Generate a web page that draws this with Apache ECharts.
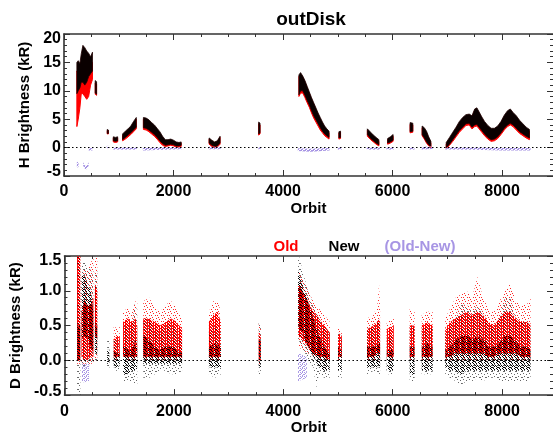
<!DOCTYPE html>
<html><head><meta charset="utf-8">
<script src="https://cdn.jsdelivr.net/npm/echarts@6/dist/echarts.min.js"></script>
<style>html,body{margin:0;padding:0;background:#fff}#c{width:553px;height:436px}</style>
</head><body><div id="c"></div>
<script>
// ---------- tick labels / categories ----------
var xTicks = [0, 2000, 4000, 6000, 8000];
var hTicks = [-5, 0, 5, 10, 15, 20];
var dTicks = [-0.5, 0.0, 0.5, 1.0, 1.5];
var legendNames = ['Old', 'New', '(Old-New)'];

// ---------- H brightness: clusters of [orbit, low, high] ----------
var hNew = [
 [[235,9.5,15.0],[260,10.0,15.3],[290,10.5,14.8],[315,11.5,16.5],[345,11.5,18.0],[380,11.0,17.6],[415,11.5,17.0],[450,12.5,16.6],[485,13.0,16.0],[520,13.5,16.8]],
 [[570,9.6,11.8],[595,9.4,11.6]],
 [[790,2.5,3.2],[810,2.5,3.1]],
 [[900,1.2,1.9],[940,1.1,1.8],[980,1.2,1.9]],
 [[1070,1.4,2.4],[1120,1.8,2.9],[1170,2.2,3.3],[1220,2.6,3.8],[1270,3.1,4.6],[1320,3.6,5.3]],
 [[1450,3.5,5.3],[1500,3.4,5.2],[1550,3.1,4.9],[1600,2.7,4.4],[1650,2.3,4.0],[1700,1.8,3.4],[1750,1.2,2.8],[1800,0.7,2.0],[1850,0.4,1.4],[1900,0.5,1.4],[1950,0.6,1.5],[2000,0.5,1.3],[2050,0.3,1.0],[2100,0.3,0.9],[2140,0.4,1.0]],
 [[2650,0.8,1.7],[2700,0.4,1.3],[2750,0.2,1.0],[2800,0.3,1.2],[2850,0.8,2.0]],
 [[3555,2.4,4.5],[3580,2.6,4.3]],
 [[4290,9.3,12.8],[4320,10.0,13.2],[4360,10.0,12.6],[4400,9.2,11.8],[4440,8.3,10.8],[4480,7.5,9.8],[4520,6.5,8.8],[4560,5.6,7.9],[4600,4.9,7.0],[4640,4.2,6.1],[4680,3.5,5.3],[4720,2.9,4.5],[4760,2.4,3.8],[4800,2.1,3.3],[4840,1.8,2.9]],
 [[5020,1.7,2.8],[5050,1.8,2.9]],
 [[5540,2.3,3.3],[5600,1.6,2.7],[5650,1.2,2.2],[5700,0.8,1.8],[5750,0.5,1.4]],
 [[5910,0.8,1.6],[5960,1.0,1.9],[6010,1.3,2.3]],
 [[6320,2.8,4.4],[6370,2.9,4.3]],
 [[6540,2.3,3.8],[6580,1.7,3.5],[6620,1.0,2.9],[6660,0.5,1.9],[6700,0.2,1.1]],
 [[6980,0.0,0.9],[7040,0.6,1.8],[7100,1.4,2.7],[7160,2.2,3.6],[7220,3.0,4.6],[7280,3.6,5.3],[7340,4.2,5.8],[7400,4.3,5.9],[7450,3.6,5.6],[7500,4.0,6.8],[7540,4.1,7.0],[7580,3.6,6.3],[7630,3.0,5.4],[7680,2.4,4.6],[7740,1.8,3.9],[7800,1.4,3.4],[7860,1.5,3.4],[7920,1.9,3.8],[7980,2.6,4.6],[8040,3.4,5.7],[8100,4.0,6.5],[8150,4.3,6.8],[8200,4.0,6.2],[8260,3.4,5.6],[8320,2.8,4.8],[8380,2.4,4.2],[8440,2.0,3.6],[8500,1.7,3.2]]
];
var hOld = [
 [[235,3.7,13.5],[260,5.0,13.0],[290,7.0,13.0],[315,9.5,14.0],[345,9.5,14.5],[380,9.0,14.0],[415,8.5,13.5],[450,9.0,13.0],[485,11.0,14.0],[520,12.0,15.0]],
 [[570,9.4,11.4],[595,9.2,11.2]],
 [[790,2.4,3.0],[810,2.4,3.0]],
 [[900,1.0,1.7],[940,0.9,1.6],[980,1.0,1.7]],
 [[1070,1.2,2.1],[1120,1.5,2.6],[1170,1.9,3.0],[1220,2.3,3.5],[1270,2.8,4.3],[1320,3.3,5.0]],
 [[1450,3.2,5.0],[1500,3.1,4.9],[1550,2.8,4.6],[1600,2.4,4.1],[1650,2.0,3.7],[1700,1.5,3.1],[1750,0.9,2.5],[1800,0.4,1.7],[1850,0.2,1.1],[1900,0.3,1.1],[1950,0.4,1.2],[2000,0.3,1.0],[2050,0.1,0.8],[2100,0.1,0.7],[2140,0.2,0.8]],
 [[2650,0.6,1.5],[2700,0.2,1.1],[2750,0.0,0.8],[2800,0.1,1.0],[2850,0.6,1.8]],
 [[3555,2.2,4.2],[3580,2.4,4.0]],
 [[4290,9.0,12.5],[4320,9.6,12.9],[4360,9.6,12.3],[4400,8.8,11.5],[4440,7.9,10.5],[4480,7.1,9.5],[4520,6.1,8.5],[4560,5.2,7.6],[4600,4.5,6.7],[4640,3.8,5.8],[4680,3.1,5.0],[4720,2.6,4.2],[4760,2.1,3.5],[4800,1.8,3.0],[4840,1.5,2.6]],
 [[5020,1.5,2.6],[5050,1.6,2.7]],
 [[5540,2.0,3.0],[5600,1.4,2.4],[5650,1.0,1.9],[5700,0.6,1.5],[5750,0.3,1.1]],
 [[5910,0.6,1.4],[5960,0.8,1.7],[6010,1.1,2.0]],
 [[6320,2.6,4.1],[6370,2.7,4.0]],
 [[6540,2.1,3.5],[6580,1.5,3.2],[6620,0.8,2.6],[6660,0.3,1.6],[6700,0.0,0.8]],
 [[6980,-0.2,0.6],[7040,0.4,1.5],[7100,1.1,2.4],[7160,1.9,3.3],[7220,2.7,4.3],[7280,3.3,5.0],[7340,3.9,5.5],[7400,4.0,5.6],[7450,3.3,5.3],[7500,3.7,6.5],[7540,3.8,6.7],[7580,3.3,6.0],[7630,2.7,5.1],[7680,2.1,4.3],[7740,1.5,3.6],[7800,1.1,3.1],[7860,1.2,3.1],[7920,1.6,3.5],[7980,2.3,4.3],[8040,3.1,5.4],[8100,3.7,6.2],[8150,4.0,6.5],[8200,3.7,5.9],[8260,3.1,5.3],[8320,2.5,4.5],[8380,2.1,3.9],[8440,1.7,3.3],[8500,1.4,2.9]]
];
var hDiff = [
 [[235,-3.5,-2.5],[265,-3.4,-2.6]],
 [[350,-3.2,-2.6],[380,-3.7,-3.1],[400,-3.9,-3.3],[420,-3.7,-3.1],[450,-3.2,-2.6]],
 [[450,-0.5,0.0],[520,-0.5,-0.1]],
 [[780,-0.1,0.3],[815,-0.1,0.3]],
 [[900,-0.35,0.0],[1330,-0.35,0.0]],
 [[1440,-0.5,-0.05],[1800,-0.4,0.0],[2150,-0.3,0.05]],
 [[2640,-0.3,0.15],[2860,-0.3,0.15]],
 [[3550,-0.3,0.05],[3590,-0.3,0.05]],
 [[4270,-0.6,-0.1],[4500,-0.75,-0.2],[4850,-0.5,-0.05]],
 [[5000,-0.35,0.0],[5070,-0.35,0.0]],
 [[5530,-0.35,0.0],[5770,-0.35,0.0]],
 [[5890,-0.35,0.0],[6020,-0.35,0.0]],
 [[6310,-0.35,0.0],[6400,-0.35,0.0]],
 [[6530,-0.35,0.1],[6730,-0.25,0.25]],
 [[6960,-0.35,0.0],[7500,-0.4,0.0],[8000,-0.5,-0.05],[8520,-0.5,-0.05]]
];

// ---------- D brightness: clusters of [orbit, outerLow, coreLow, coreHigh, outerHigh] ----------
var dOld = [
 [[230,-0.05,0.0,1.6,1.6],[290,-0.05,0.0,1.6,1.6]],
 [[310,-0.05,0.05,0.7,1.2],[360,-0.05,0.0,0.85,1.3],[420,-0.05,0.0,0.8,1.3],[480,-0.05,0.05,0.8,1.4],[530,-0.05,0.05,0.9,1.5]],
 [[555,0.0,0.35,1.1,1.6],[600,0.0,0.3,1.0,1.6]],
 [[900,0.0,0.05,0.3,0.5],[960,0.0,0.05,0.35,0.45],[1010,0.0,0.05,0.35,0.5]],
 [[1070,0.0,0.05,0.55,0.7],[1150,0.0,0.05,0.6,0.75],[1230,0.0,0.05,0.55,0.7],[1300,0.0,0.05,0.6,0.85],[1330,0.0,0.05,0.5,0.9]],
 [[1440,0.0,0.05,0.6,0.85],[1550,0.0,0.05,0.6,0.9],[1650,0.0,0.05,0.55,0.75],[1750,0.0,0.05,0.5,0.7],[1850,0.0,0.05,0.55,0.8],[1950,0.0,0.05,0.6,0.85],[2050,0.0,0.05,0.55,0.75],[2150,0.0,0.05,0.45,0.6]],
 [[2640,0.0,0.05,0.55,0.7],[2720,0.0,0.05,0.65,0.85],[2800,0.0,0.05,0.7,0.85],[2860,0.0,0.05,0.55,0.7]],
 [[3550,-0.05,0.0,0.4,0.55],[3590,-0.05,0.0,0.35,0.5]],
 [[4270,0.2,0.35,1.1,1.3],[4350,0.15,0.3,1.0,1.2],[4450,0.1,0.2,0.85,1.0],[4550,0.05,0.1,0.7,0.85],[4650,0.0,0.05,0.6,0.75],[4750,0.0,0.05,0.5,0.65],[4850,0.0,0.0,0.4,0.55]],
 [[5000,0.0,0.05,0.4,0.5],[5070,0.0,0.05,0.35,0.45]],
 [[5530,0.0,0.05,0.45,0.6],[5650,0.0,0.05,0.5,0.65],[5720,0.0,0.1,0.55,0.8],[5750,0.0,0.1,0.6,1.1],[5770,0.0,0.1,0.5,0.7]],
 [[5890,0.0,0.05,0.45,0.55],[6020,0.0,0.05,0.5,0.6]],
 [[6310,0.0,0.05,0.5,0.75],[6400,0.0,0.05,0.5,0.7]],
 [[6530,0.0,0.05,0.5,0.65],[6630,0.0,0.05,0.55,0.7],[6730,0.0,0.05,0.5,0.7]],
 [[6960,0.0,0.05,0.45,0.6],[7050,0.0,0.05,0.55,0.75],[7150,0.0,0.1,0.6,0.9],[7250,0.0,0.1,0.65,0.95],[7350,0.0,0.1,0.7,1.0],[7450,0.0,0.1,0.65,0.9],[7550,0.0,0.1,0.7,1.2],[7650,0.0,0.1,0.65,0.9],[7750,0.0,0.05,0.55,0.75],[7850,0.0,0.05,0.5,0.7],[7950,0.0,0.1,0.6,0.85],[8050,0.0,0.1,0.7,1.0],[8150,0.0,0.1,0.7,1.1],[8250,0.0,0.1,0.6,0.85],[8350,0.0,0.05,0.55,0.8],[8450,0.0,0.05,0.55,0.8],[8520,0.0,0.05,0.5,0.9]]
];
var dNew = [
 [[230,-0.55,0.0,0.5,1.6],[290,-0.5,0.0,0.5,1.6]],
 [[310,-0.1,0.3,1.2,1.4],[360,-0.1,0.35,1.25,1.45],[420,-0.1,0.3,1.1,1.35],[480,-0.05,0.2,1.0,1.3],[530,-0.05,0.1,0.7,1.2]],
 [[555,0.0,0.1,0.5,1.3],[600,0.0,0.1,0.5,1.3]],
 [[780,-0.15,-0.05,0.15,0.3],[820,-0.15,-0.05,0.15,0.3]],
 [[900,-0.15,-0.1,0.15,0.3],[960,-0.15,-0.1,0.1,0.3],[1010,-0.12,-0.08,0.1,0.3]],
 [[1070,-0.3,-0.2,0.2,0.5],[1150,-0.3,-0.2,0.15,0.5],[1230,-0.3,-0.15,0.15,0.5],[1300,-0.35,-0.15,0.3,0.9],[1330,-0.35,-0.1,0.2,0.6]],
 [[1440,-0.25,-0.05,0.35,0.6],[1550,-0.25,-0.05,0.3,0.6],[1650,-0.2,-0.05,0.2,0.45],[1750,-0.15,-0.05,0.15,0.4],[1850,-0.15,-0.05,0.2,0.5],[1950,-0.2,-0.05,0.2,0.55],[2050,-0.2,-0.05,0.15,0.4],[2150,-0.15,-0.05,0.1,0.3]],
 [[2640,-0.2,-0.1,0.2,0.4],[2750,-0.25,-0.1,0.25,0.5],[2860,-0.2,-0.1,0.2,0.4]],
 [[3550,-0.2,-0.1,0.3,0.55],[3590,-0.2,-0.1,0.3,0.5]],
 [[4270,0.3,0.5,1.3,1.55],[4350,0.2,0.4,1.1,1.3],[4450,0.0,0.2,0.85,1.0],[4550,-0.1,0.05,0.6,0.8],[4600,-0.4,0.0,0.5,0.7],[4650,-0.2,-0.1,0.35,0.6],[4750,-0.25,-0.15,0.2,0.5],[4850,-0.25,-0.15,0.1,0.4]],
 [[5000,-0.25,-0.15,0.2,0.4],[5070,-0.25,-0.15,0.15,0.35]],
 [[5530,-0.2,-0.1,0.2,0.45],[5650,-0.15,-0.1,0.2,0.5],[5770,-0.2,-0.1,0.25,0.55]],
 [[5890,-0.2,-0.15,0.15,0.35],[6020,-0.2,-0.15,0.15,0.35]],
 [[6310,-0.3,-0.2,0.2,0.5],[6400,-0.3,-0.2,0.2,0.5]],
 [[6530,-0.2,-0.15,0.2,0.45],[6630,-0.2,-0.15,0.25,0.5],[6730,-0.2,-0.15,0.2,0.45]],
 [[6960,-0.2,-0.1,0.15,0.4],[7050,-0.25,-0.15,0.2,0.5],[7150,-0.3,-0.15,0.3,0.6],[7250,-0.35,-0.2,0.35,0.8],[7350,-0.3,-0.15,0.35,0.8],[7450,-0.3,-0.15,0.3,0.7],[7550,-0.25,-0.15,0.35,0.8],[7650,-0.3,-0.15,0.3,0.7],[7750,-0.25,-0.15,0.2,0.5],[7850,-0.25,-0.15,0.2,0.5],[7950,-0.3,-0.15,0.25,0.6],[8050,-0.3,-0.15,0.35,0.9],[8150,-0.3,-0.15,0.35,0.9],[8250,-0.3,-0.15,0.25,0.6],[8350,-0.3,-0.15,0.2,0.55],[8450,-0.3,-0.15,0.2,0.55],[8520,-0.25,-0.15,0.15,0.5]]
];
var dDiff = [
 [[320,-0.32,-0.05],[450,-0.3,-0.05]],
 [[4270,-0.3,0.1],[4430,-0.25,0.05]]
];

// ---------- styling helpers ----------
var FONT = 'Liberation Sans, Arial, Helvetica, sans-serif';
var RED = '#ff0000', BLACK = '#000000', PURPLE = '#a795e4', FRAME = '#333333';

function makeTile(color, rows) {
  var h = rows.length, w = rows[0].length;
  var cv = document.createElement('canvas'); cv.width = w; cv.height = h;
  var ctx = cv.getContext('2d'); ctx.fillStyle = color;
  for (var y = 0; y < h; y++) for (var x = 0; x < w; x++) if (rows[y][x] === 'x') ctx.fillRect(x, y, 1, 1);
  return { image: cv, repeat: 'repeat' };
}
var redCore = makeTile(RED, ['xx.x.x', '.xx.xx', 'x.xx.x', 'xx.x.x', '.x.xxx', 'x.xx.x']);
var redOuter = makeTile('rgba(255,0,0,0.85)', ['x.....', '...x..', '......', '.x...x', '......', '..x...']);
var blackCore = makeTile('#000', ['..x.x.', 'x....x', '.x..x.', '..x..x', 'x.....', '.x.x..']);
var blackOuter = makeTile('rgba(0,0,0,0.6)', ['......', '.x....', '....x.', '......', '..x...', 'x....x']);
var purpleTile = makeTile(PURPLE, ['x.x.', '.x..', 'x..x', '..x.']);
var purpleLine = makeTile(PURPLE, ['xx.x', 'x.xx', '.xx.']);

function band(clusters, loI, hiI, xi, yi, fill, stroke, lw) {
  return {
    type: 'custom', xAxisIndex: xi, yAxisIndex: yi, clip: true, silent: true,
    data: clusters.map(function (c) { return [c[0][0], c[0][loI]]; }),
    encode: { x: 0, y: 1 },
    renderItem: function (params, api) {
      var c = clusters[params.dataIndex];
      var top = c.map(function (p) { return api.coord([p[0], p[hiI]]); });
      var bot = c.slice().reverse().map(function (p) { return api.coord([p[0], p[loI]]); });
      var st = { fill: fill };
      if (stroke) { st.stroke = stroke; st.lineWidth = lw; }
      return { type: 'polygon', shape: { points: top.concat(bot) }, style: st };
    }
  };
}
function zeroLine(xi, yi) {
  return {
    type: 'line', xAxisIndex: xi, yAxisIndex: yi, data: [], silent: true,
    markLine: { silent: true, symbol: 'none', label: { show: false }, animation: false,
      lineStyle: { color: '#000', type: [1.5, 2.5], width: 1.2 }, data: [{ yAxis: 0 }] }
  };
}
function xAx(grid, pos, showLabels) {
  return {
    type: 'value', gridIndex: grid, position: pos, min: xTicks[0], max: 8930, interval: xTicks[1] - xTicks[0],
    axisLine: { show: true, onZero: false, lineStyle: { color: FRAME, width: 1.6 } },
    axisTick: { show: true, inside: true, length: 6, lineStyle: { color: FRAME, width: 1 } },
    minorTick: { show: true, splitNumber: 4, length: 3, lineStyle: { color: FRAME, width: 1 } },
    splitLine: { show: false },
    axisLabel: { show: showLabels, showMaxLabel: false, margin: 8, color: '#000', fontSize: 16, fontWeight: 'bold', fontFamily: FONT,
      formatter: function (v) { return String(v); } },
    name: showLabels ? 'Orbit' : '', nameLocation: 'middle', nameGap: 24,
    nameTextStyle: { color: '#000', fontSize: 15, fontWeight: 'bold', fontFamily: FONT }
  };
}
function yAx(grid, pos, min, max, interval, name, fmt) {
  var left = pos === 'left';
  return {
    type: 'value', gridIndex: grid, position: pos, min: min, max: max, interval: interval,
    axisLine: { show: left, onZero: false, lineStyle: { color: FRAME, width: 1.6 } },
    axisTick: { show: true, inside: true, length: 6, lineStyle: { color: FRAME, width: 1 } },
    minorTick: { show: true, splitNumber: 5, length: 3, lineStyle: { color: FRAME, width: 1 } },
    splitLine: { show: false },
    axisLabel: {
      show: left, margin: 3, color: '#000', fontSize: 16, fontWeight: 'bold', fontFamily: FONT,
      formatter: function (v) {
        var s = fmt(v);
        if (Math.abs(v - max) < 1e-9) return '{mx|' + s + '}';
        if (Math.abs(v - min) < 1e-9) return '{mn|' + s + '}';
        return s;
      },
      rich: {
        mx: { padding: [9, 0, 0, 0], fontSize: 16, fontWeight: 'bold', fontFamily: FONT, color: '#000' },
        mn: { padding: [0, 0, 8, 0], fontSize: 16, fontWeight: 'bold', fontFamily: FONT, color: '#000' }
      }
    },
    name: left ? name : '', nameLocation: 'middle', nameGap: 30,
    nameTextStyle: { color: '#000', fontSize: 15, fontWeight: 'bold', fontFamily: FONT }
  };
}

var chart = echarts.init(document.getElementById('c'), null, { renderer: 'canvas' });
var fmtH = function (v) { return String(v); };
var fmtD = function (v) { return v.toFixed(1); };

chart.setOption({
  animation: false,
  backgroundColor: '#fff',
  textStyle: { fontFamily: FONT },
  grid: [
    { left: 64, top: 34, width: 490, height: 142 },
    { left: 64, top: 256, width: 490, height: 142 }
  ],
  xAxis: [xAx(0, 'bottom', true), xAx(0, 'top', false), xAx(1, 'bottom', true), xAx(1, 'top', false)],
  yAxis: [
    yAx(0, 'left', hTicks[0], hTicks[hTicks.length - 1], hTicks[1] - hTicks[0], 'H Brightness (kR)', fmtH),
    yAx(0, 'right', hTicks[0], hTicks[hTicks.length - 1], hTicks[1] - hTicks[0], '', fmtH),
    yAx(1, 'left', dTicks[0], dTicks[dTicks.length - 1], 0.5, 'D Brightness (kR)', fmtD),
    yAx(1, 'right', dTicks[0], dTicks[dTicks.length - 1], 0.5, '', fmtD)
  ],
  graphic: [
    { type: 'text', x: 311, y: 20, silent: true, style: { text: 'outDisk', textAlign: 'center', textVerticalAlign: 'middle', fontSize: 19, fontWeight: 'bold', fontFamily: FONT, fill: '#000' } },
    { type: 'text', x: 286, y: 247, silent: true, style: { text: legendNames[0], textAlign: 'center', textVerticalAlign: 'middle', fontSize: 15, fontWeight: 'bold', fontFamily: FONT, fill: RED } },
    { type: 'text', x: 344, y: 247, silent: true, style: { text: legendNames[1], textAlign: 'center', textVerticalAlign: 'middle', fontSize: 15, fontWeight: 'bold', fontFamily: FONT, fill: BLACK } },
    { type: 'text', x: 420, y: 247, silent: true, style: { text: legendNames[2], textAlign: 'center', textVerticalAlign: 'middle', fontSize: 15, fontWeight: 'bold', fontFamily: FONT, fill: PURPLE } }
  ],
  series: [
    band(hOld, 1, 2, 0, 0, RED, RED, 1),
    band(hNew, 1, 2, 0, 0, '#0a0000', '#200000', 0.8),
    zeroLine(0, 0),
    band(hDiff, 1, 2, 0, 0, purpleLine, null, 0),
    band(dOld, 1, 4, 2, 2, redOuter, null, 0),
    band(dOld, 2, 3, 2, 2, redCore, null, 0),
    band(dNew, 1, 4, 2, 2, blackOuter, null, 0),
    band(dNew, 2, 3, 2, 2, blackCore, null, 0),
    band(dDiff, 1, 2, 2, 2, purpleTile, null, 0),
    zeroLine(2, 2)
  ]
});
</script>
</body></html>
